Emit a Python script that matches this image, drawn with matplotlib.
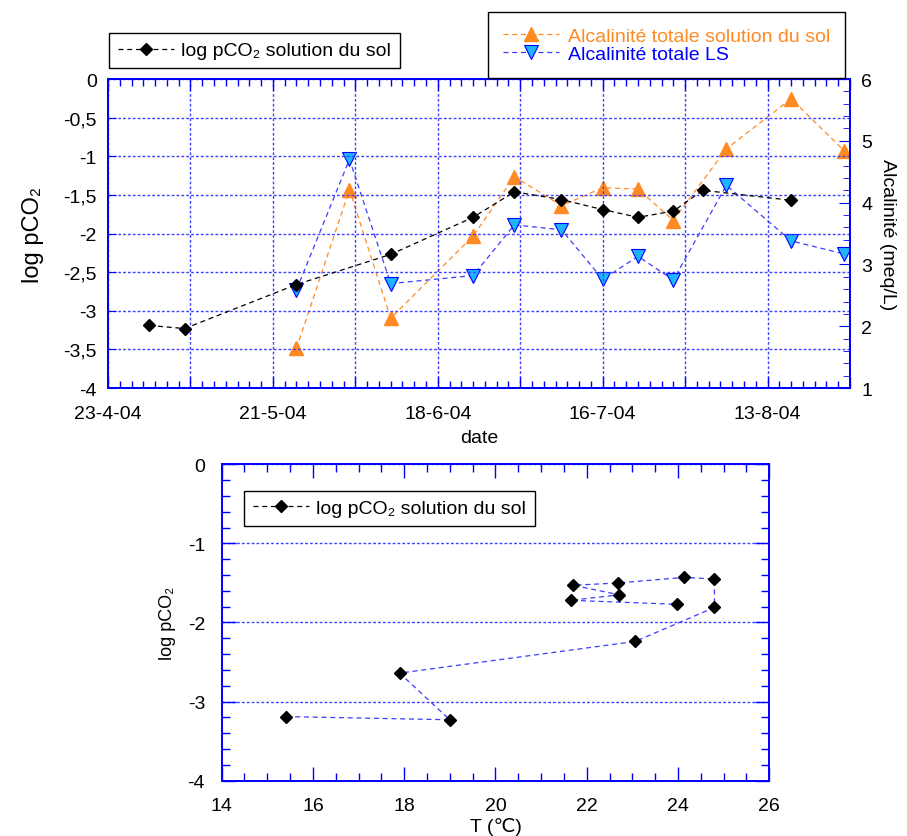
import matplotlib
matplotlib.use('Agg')
import matplotlib.pyplot as plt
import matplotlib.dates as mdates
from matplotlib.lines import Line2D
from matplotlib.ticker import MultipleLocator, FixedLocator, FuncFormatter, NullLocator
import datetime as dt

plt.rcParams['font.family'] = ['Liberation Sans', 'DejaVu Sans']
plt.rcParams['axes.unicode_minus'] = False

# ---------------- data ----------------
pco2_dates = ['2004-04-30', '2004-05-06', '2004-05-25', '2004-06-10', '2004-06-24', '2004-07-01',
              '2004-07-09', '2004-07-16', '2004-07-22', '2004-07-28', '2004-08-02', '2004-08-17']
pco2_values = [-3.19, -3.23, -2.66, -2.27, -1.79, -1.46, -1.56, -1.69, -1.79, -1.71, -1.44, -1.57]

alk_dates = ['2004-05-25', '2004-06-03', '2004-06-10', '2004-06-24', '2004-07-01', '2004-07-09',
             '2004-07-16', '2004-07-22', '2004-07-28', '2004-08-06', '2004-08-17', '2004-08-26']
alk_sol = [1.64, 4.21, 2.13, 3.46, 4.42, 3.95, 4.24, 4.22, 3.71, 4.87, 5.68, 4.84]
alk_ls = [2.59, 4.70, 2.69, 2.82, 3.64, 3.56, 2.76, 3.13, 2.75, 4.28, 3.38, 3.17]

temp_values = [15.42, 19.0, 17.9, 23.06, 24.8, 24.8, 24.14, 22.69, 21.71, 22.71, 21.65, 23.97]
pco2_temp = [-3.19, -3.23, -2.64, -2.24, -1.81, -1.45, -1.43, -1.50, -1.53, -1.65, -1.72, -1.77]

date_start = '2004-04-23'
date_end = '2004-08-27'

label_pco2 = 'log pCO\u2082 solution du sol'
label_sol = 'Alcalinit\u00e9 totale solution du sol'
label_ls = 'Alcalinit\u00e9 totale LS'

# ---------------- style ----------------
BLUE = '#0000ff'
GRIDC = '#4040ff'
ORANGE = '#ff8a22'
CYAN = '#1eb4ff'
FS = 14

def to_dt(s):
    return dt.datetime.strptime(s, '%Y-%m-%d')

fig = plt.figure(figsize=(9.07, 8.37), dpi=100)
fig.patch.set_facecolor('white')

# ---------------- top chart ----------------
ax = fig.add_axes([0.1191, 0.5352, 0.8181, 0.3692])
ax2 = ax.twinx()
ax.set_zorder(ax2.get_zorder() + 1)
ax.patch.set_visible(False)

xd_p = [to_dt(s) for s in pco2_dates]
xd_a = [to_dt(s) for s in alk_dates]
d0, d1 = to_dt(date_start), to_dt(date_end)

dash = (0, (4, 3))
l_sol, = ax2.plot(xd_a, alk_sol, linestyle=dash, color=ORANGE, lw=0.9,
                  marker='^', ms=10, mfc=ORANGE, mec=ORANGE, label=label_sol)
l_ls, = ax2.plot(xd_a, alk_ls, linestyle=dash, color='#3c3cff', lw=0.9,
                 marker='v', ms=10, mfc=CYAN, mec=BLUE, mew=0.8, label=label_ls)
l_p, = ax.plot(xd_p, pco2_values, linestyle=dash, color='black', lw=0.9,
               marker='D', ms=5.7, mfc='black', mec='black', label=label_pco2)

ax.set_xlim(mdates.date2num(d0), mdates.date2num(d1))
ax.set_ylim(-4, 0)
ax2.set_ylim(1, 6)

n0 = mdates.date2num(d0)
n1 = mdates.date2num(d1)
major_x = [n0 + 14 * i for i in range(int((n1 - n0) // 14) + 1)]
minor_x = [n0 + 2 * i for i in range(int((n1 - n0) // 2) + 1)]
ax.xaxis.set_major_locator(FixedLocator(major_x))
ax.xaxis.set_minor_locator(FixedLocator(minor_x))

def date_fmt(x, pos):
    k = int(round(x - n0))
    if k % 28 != 0:
        return ''
    d = mdates.num2date(x)
    return f"{d.day}-{d.month}-{d.strftime('%y')}"

ax.xaxis.set_major_formatter(FuncFormatter(date_fmt))
ax.yaxis.set_major_locator(MultipleLocator(0.5))
ax.yaxis.set_minor_locator(NullLocator())
ax.yaxis.set_major_formatter(FuncFormatter(lambda v, p: f"{v:g}".replace('.', ',')))
ax2.yaxis.set_major_locator(MultipleLocator(1))
ax2.yaxis.set_minor_locator(MultipleLocator(0.2))

ax.grid(True, which='major', color=GRIDC, linestyle=(0, (2, 1.5)), lw=1.0)

for a in (ax, ax2):
    for sp in a.spines.values():
        sp.set_color(BLUE)
        sp.set_linewidth(1.4)

ax.tick_params(axis='x', which='both', direction='in', top=True, bottom=True, color=BLUE,
               labelsize=FS, labelcolor='black', pad=12)
ax.tick_params(axis='x', which='major', length=8, width=1)
ax.tick_params(axis='x', which='minor', length=5, width=1)
ax.tick_params(axis='y', which='major', direction='in', left=True, right=False, color=BLUE,
               length=6, labelsize=FS, labelcolor='black', pad=8)
ax2.tick_params(axis='y', which='both', direction='in', color=BLUE, labelsize=FS,
                labelcolor='black', pad=8)
ax2.tick_params(axis='y', which='major', length=8)
ax2.tick_params(axis='y', which='minor', length=5)

ax.set_xlabel('date', fontsize=FS, labelpad=5)
ax.set_ylabel('log pCO\u2082', fontsize=17, labelpad=14)
ax2.set_ylabel('Alcalinit\u00e9 (meq/L)', fontsize=FS, rotation=270, labelpad=17)

leg1 = fig.legend(handles=[l_p], loc='upper left', bbox_to_anchor=(0.1202, 0.9594),
                  borderaxespad=0, fancybox=False, edgecolor='black', framealpha=1,
                  fontsize=FS, handlelength=2.9, handletextpad=0.35, numpoints=1,
                  borderpad=0.45)
leg1.get_frame().set_linewidth(1.0)
leg2 = fig.legend(handles=[l_sol, l_ls], loc='upper left', bbox_to_anchor=(0.5384, 0.984),
                  borderaxespad=0, fancybox=False, edgecolor='black', framealpha=1,
                  fontsize=FS, handlelength=2.9, handletextpad=0.45, numpoints=1,
                  borderpad=0.75, labelspacing=0.05)
leg2.get_frame().set_linewidth(1.0)
leg2.get_texts()[0].set_color(ORANGE)
leg2.get_texts()[1].set_color(BLUE)

# ---------------- bottom chart ----------------
bx = fig.add_axes([0.2444, 0.0661, 0.6037, 0.3780])
bx.plot(temp_values, pco2_temp, linestyle=dash, color='#3c3cff', lw=0.9,
        marker='D', ms=5.7, mfc='black', mec='black')
bx.set_xlim(14, 26)
bx.set_ylim(-4, 0)
bx.xaxis.set_major_locator(MultipleLocator(2))
bx.xaxis.set_minor_locator(MultipleLocator(0.5))
bx.yaxis.set_major_locator(MultipleLocator(1))
bx.yaxis.set_minor_locator(MultipleLocator(0.2))
bx.grid(True, axis='y', which='major', color=GRIDC, linestyle=(0, (2, 1.5)), lw=1.0)
for sp in bx.spines.values():
    sp.set_color(BLUE)
    sp.set_linewidth(1.4)
bx.tick_params(which='both', direction='in', top=True, right=True, color=BLUE,
               labelsize=FS, labelcolor='black')
bx.tick_params(axis='x', which='both', pad=12)
bx.tick_params(axis='y', which='both', pad=12)
bx.tick_params(which='major', length=10, width=1)
bx.tick_params(which='minor', length=6, width=1)
bx.set_xlabel('T (\u2103)', fontsize=FS, labelpad=2)
bx.set_ylabel('log pCO\u2082', fontsize=13, labelpad=8)

h_b = Line2D([], [], linestyle=dash, color='black', lw=0.9, marker='D', ms=5.7,
             mfc='black', mec='black')
leg3 = bx.legend(handles=[h_b], labels=[label_pco2], loc='upper left',
                 bbox_to_anchor=(0.041, 0.917), borderaxespad=0, fancybox=False,
                 edgecolor='black', framealpha=1, fontsize=FS, handlelength=2.9,
                 handletextpad=0.35, numpoints=1, borderpad=0.45)
leg3.get_frame().set_linewidth(1.0)

fig.savefig('out.png', dpi=100, facecolor='white')
